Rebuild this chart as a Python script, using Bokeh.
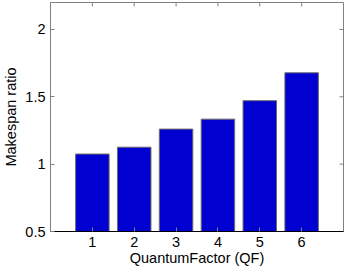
from bokeh.plotting import figure
from bokeh.models import FixedTicker, LinearAxis, Range1d
from bokeh.embed import file_html
from bokeh.resources import INLINE

# Data
qf = [1, 2, 3, 4, 5, 6]
ratio = [1.075, 1.126, 1.26, 1.334, 1.471, 1.678]
y_ticks = [0.5, 1, 1.5, 2]
y_tick_labels = ["0.5", "1", "1.5", "2"]
x_tick_labels = ["1", "2", "3", "4", "5", "6"]

X_MIN, X_MAX = 0, 7
Y_MIN, Y_MAX = 0.5, 2.2
FONT = "Liberation Sans"
GRAY = "#808080"

p = figure(width=346, height=268, output_backend="svg", toolbar_location=None,
           x_range=Range1d(X_MIN, X_MAX), y_range=Range1d(Y_MIN, Y_MAX),
           min_border_left=47, min_border_right=3, min_border_top=2,
           min_border_bottom=36, x_axis_location=None, y_axis_location=None)
p.margin = (0, 0, 0, 0)
p.background_fill_color = "white"
p.border_fill_color = "white"
p.outline_line_color = GRAY
p.outline_line_width = 1
p.xgrid.visible = False
p.ygrid.visible = False

p.vbar(x=qf, top=ratio, bottom=Y_MIN, width=0.8,
       fill_color="#0000D0", line_color="#6b6b6b", line_width=1)

# mirrored inward ticks on the top and right edges (half clipped by frame)
p.scatter(x=qf, y=[Y_MAX] * len(qf), marker="dash", angle=1.5708, size=8,
          line_color=GRAY, line_width=1)
p.scatter(x=[X_MAX] * len(y_ticks), y=y_ticks, marker="dash", size=8,
          line_color=GRAY, line_width=1)


def style(ax):
    ax.major_tick_in = 4
    ax.major_tick_out = 0
    ax.minor_tick_in = 0
    ax.minor_tick_out = 0
    ax.major_tick_line_color = GRAY
    ax.major_label_text_font = FONT
    ax.major_label_text_font_size = "14.5px"
    ax.major_label_text_color = "black"
    ax.axis_label_text_font = FONT
    ax.axis_label_text_font_size = "14.5px"
    ax.axis_label_text_font_style = "normal"
    ax.axis_label_text_color = "black"


xb = LinearAxis(ticker=FixedTicker(ticks=qf), axis_label="QuantumFactor (QF)")
style(xb)
xb.axis_line_color = "black"
xb.major_label_overrides = {q: l for q, l in zip(qf, x_tick_labels)}
xb.major_label_standoff = 5
xb.axis_label_standoff = 0
p.add_layout(xb, "below")

yl = LinearAxis(ticker=FixedTicker(ticks=y_ticks), axis_label="Makespan ratio")
style(yl)
yl.axis_line_color = GRAY
yl.major_label_overrides = {t: l for t, l in zip(y_ticks, y_tick_labels)}
yl.major_label_standoff = 5
yl.axis_label_standoff = 3
p.add_layout(yl, "left")

open("out.html", "w").write(file_html(p, INLINE))
